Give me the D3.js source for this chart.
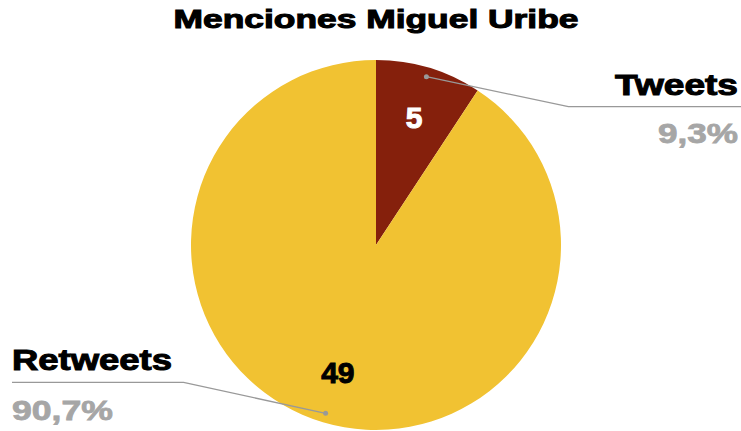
<!DOCTYPE html>
<html lang="es">
<head>
<meta charset="UTF-8">
<title>Menciones Miguel Uribe</title>
<style>
    body { margin: 0; background: #fff; overflow: hidden; }
    svg { display: block; }
    text { font-family: "Liberation Sans", Arial, sans-serif; font-weight: bold; }
</style>
</head>
<body>
<svg width="741" height="431"></svg>
<script src="https://d3js.org/d3.v7.min.js"></script>
<script>
    // datos
    const categories = ["Tweets", "Retweets"];
    const values = [5, 49];
    const colors = ["#85200c", "#f1c232"];
    const valueColors = ["#ffffff", "#000000"];
    const title = "Menciones Miguel Uribe";

    const svg = d3.select("svg");
    const cx = 376, cy = 245, r = 185;

    const total = d3.sum(values);
    const fmt = v => d3.format(".1f")(v).replace(".", ",") + "%";

    const data = categories.map((c, i) => ({ name: c, value: values[i], color: colors[i], vcolor: valueColors[i] }));

    const pie = d3.pie().value(d => d.value).sort(null);
    const arcs = pie(data);
    const arc = d3.arc().innerRadius(0).outerRadius(r);
    const labelArc = d3.arc().innerRadius(r * 0.72).outerRadius(r * 0.72);
    const dotArc = d3.arc().innerRadius(r * 0.95).outerRadius(r * 0.95);

    // titulo
    svg.append("text")
        .attr("x", cx).attr("y", 28)
        .attr("text-anchor", "middle")
        .attr("font-size", 25)
        .attr("fill", "#000").attr("stroke", "#000").attr("stroke-width", 1)
        .attr("textLength", 405).attr("lengthAdjust", "spacingAndGlyphs")
        .text(title);

    const g = svg.append("g").attr("transform", `translate(${cx},${cy})`);

    g.selectAll("path")
        .data(arcs)
        .join("path")
        .attr("d", arc)
        .attr("fill", d => d.data.color);

    // valores dentro
    g.selectAll("text.val")
        .data(arcs)
        .join("text")
        .attr("class", "val")
        .attr("x", d => labelArc.centroid(d)[0])
        .attr("y", d => labelArc.centroid(d)[1])
        .attr("dy", "0.36em")
        .attr("text-anchor", "middle")
        .attr("font-size", 30)
        .attr("fill", d => d.data.vcolor)
        .attr("stroke", d => d.data.vcolor).attr("stroke-width", 1)
        .text(d => d.data.value);

    // lineas guia + etiquetas
    arcs.forEach(d => {
        const [px, py] = dotArc.centroid(d);
        const right = px > 0;
        const ex = px + (right ? 142 : -142);
        const ey = py + (right ? 30 : -31);
        const endX = right ? 741 - cx : 12 - cx;

        g.append("polyline")
            .attr("points", [[px, py], [ex, ey], [endX, ey]].map(p => p.join(",")).join(" "))
            .attr("fill", "none")
            .attr("stroke", "#999")
            .attr("stroke-width", 1.3);
        g.append("circle")
            .attr("cx", px).attr("cy", py).attr("r", 2.5)
            .attr("fill", "#999");

        const tx = right ? 738 - cx : 12 - cx;
        const anchor = right ? "end" : "start";
        g.append("text")
            .attr("x", tx).attr("y", ey - 12)
            .attr("text-anchor", anchor)
            .attr("font-size", 29)
            .attr("fill", "#000").attr("stroke", "#000").attr("stroke-width", 1)
            .attr("textLength", right ? 123 : 160).attr("lengthAdjust", "spacingAndGlyphs")
            .text(d.data.name);
        g.append("text")
            .attr("x", tx).attr("y", ey + (right ? 36 : 38))
            .attr("text-anchor", anchor)
            .attr("font-size", 28)
            .attr("fill", "#a6a6a6").attr("stroke", "#a6a6a6").attr("stroke-width", 0.8)
            .attr("textLength", right ? 80 : 101).attr("lengthAdjust", "spacingAndGlyphs")
            .text(fmt(d.data.value / total * 100));
    });
</script>
</body>
</html>
